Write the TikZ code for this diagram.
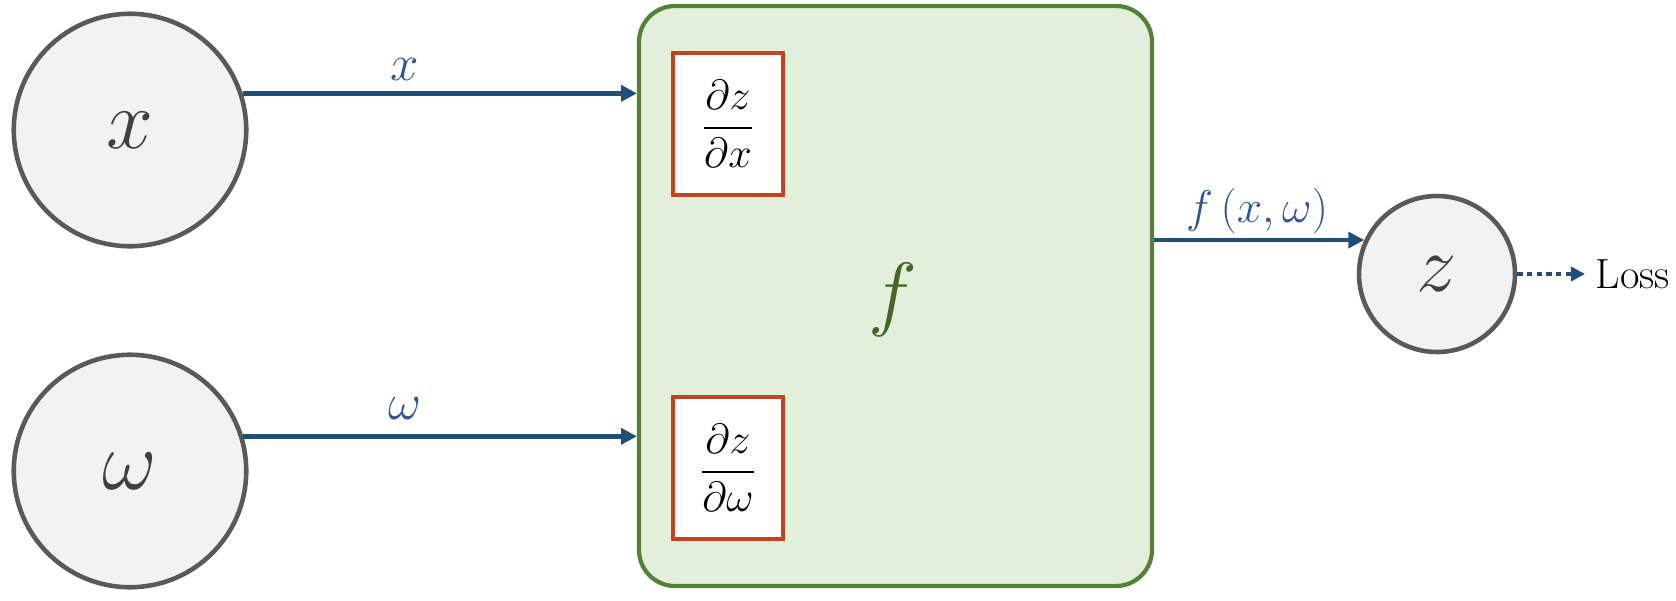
\RequirePackage{fix-cm}
\documentclass[tikz,border=0pt]{standalone}
\usepackage{amsmath,amssymb}
\usetikzlibrary{arrows.meta}
\definecolor{circgray}{RGB}{89,89,89}
\definecolor{circfill}{RGB}{242,242,242}
\definecolor{circtext}{RGB}{64,64,64}
\definecolor{arrblue}{RGB}{31,78,121}
\definecolor{labblue}{RGB}{47,85,151}
\definecolor{boxgreen}{RGB}{84,130,53}
\definecolor{boxfill}{RGB}{226,239,218}
\definecolor{fgreen}{RGB}{70,100,40}
\definecolor{partred}{RGB}{196,67,30}
\begin{document}
\begin{tikzpicture}[x=1cm,y=1cm,
  var/.style={circle,draw=circgray,fill=circfill,text=circtext,line width=2.6pt,inner sep=0pt},
  part/.style={draw=partred,fill=white,line width=2.2pt,minimum width=2.2cm,minimum height=2.84cm,inner sep=0pt,font=\fontsize{24}{28}\selectfont},
  arr/.style={draw=arrblue,line width=2.6pt,-{Triangle[length=9pt,width=9pt]}},
  lab/.style={text=labblue,font=\fontsize{29}{32}\selectfont}]
\useasboundingbox (0,0) rectangle (33.52,12);
% function block
\node[draw=boxgreen,fill=boxfill,line width=2.4pt,rounded corners=0.72cm,
  minimum width=10.26cm,minimum height=11.6cm] (fbox) at (17.91,6.08) {};
\node[text=fgreen,font=\fontsize{47}{50}\selectfont] (fname) at (17.86,6.0) {$f$};
\node[part] (dzdx) at (14.56,9.52) {$\dfrac{\partial z}{\partial x}$};
\node[part] (dzdw) at (14.56,2.64) {$\dfrac{\partial z}{\partial \omega}$};
% inputs
\foreach \nm/\sym/\yy/\ang/\ly in {xin/x/9.4/18/10.6,win/\omega/2.58/17/3.82} {
  \node[var,minimum size=4.65cm,font=\fontsize{48}{50}\selectfont] (\nm) at (2.6,\yy) {$\sym$};
  \draw[arr] (\nm.\ang) -- (\nm.\ang -| fbox.west);
  \node[lab] at (8.1,\ly) {$\sym$};
}
% output
\node[var,minimum size=3.12cm,font=\fontsize{46}{50}\selectfont] (zout) at (28.74,6.52) {$z$};
\draw[arr] (zout.155 -| fbox.east) -- (zout.155);
\node[lab,font=\fontsize{26}{30}\selectfont] (fxw) at (25.14,7.78) {$f\,(x,\omega)$};
\node[anchor=west,inner sep=6pt,font=\fontsize{24}{28}\selectfont] (loss) at (31.7,6.52) {Loss};
\draw[draw=arrblue,line width=2.6pt,dash pattern=on 3pt off 2.5pt,-{Triangle[length=8pt,width=8pt]}] (zout.east) -- (loss.west);
\end{tikzpicture}
\end{document}
